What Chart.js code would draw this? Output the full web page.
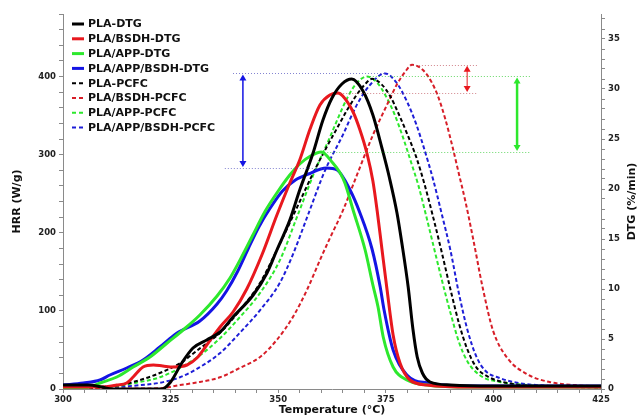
<!DOCTYPE html>
<html>
<head>
<meta charset="utf-8">
<script src="https://cdn.jsdelivr.net/npm/chart.js@4.4.1/dist/chart.umd.min.js"></script>
<style>
  body { margin: 0; background: #fff; }
</style>
</head>
<body>
<canvas id="myChart" width="643" height="420"></canvas>
<script>
// DTG curves (%/min, right axis) -- temperature in °C
const plaDtgT = [300, 306, 309, 311.5, 323, 325, 327.6, 330.2, 333.4, 336.5, 339.5, 344.2, 347.4, 349.7, 352.7, 355, 356.7, 358.1, 360.4, 362.5, 364.8, 367.1, 369.7, 372, 374.1, 375.8, 377.6, 378.8, 380.2, 381.3, 382.3, 383.5, 385.3, 390, 400, 425]
const plaDtgV = [0.4, 0.4, 0.2, 0, 0, 0.7, 2.6, 4.1, 4.9, 5.7, 7.2, 9.4, 11.6, 13.9, 16.9, 19.9, 21.9, 23.6, 26.9, 29.1, 30.5, 31.0, 29.8, 27.4, 24.1, 21.2, 17.6, 14.4, 10.2, 6.0, 3.2, 1.6, 0.7, 0.4, 0.3, 0.3]

const bsdhDtgT = [300, 308.6, 312.5, 314.8, 316.3, 318.6, 321, 323.2, 325.6, 328.8, 331.1, 333.4, 336.5, 339.5, 342.7, 346.3, 349.7, 352.7, 355, 357.4, 359.7, 362, 363.9, 365, 367.4, 369, 370.6, 372, 373, 374.1, 375.3, 376.7, 378.3, 380.6, 384.6, 395, 425]
const bsdhDtgV = [0.2, 0.2, 0.4, 0.6, 1.2, 2.2, 2.4, 2.3, 2.2, 2.4, 3.1, 4.4, 6.2, 7.7, 10.0, 13.5, 17.4, 20.6, 22.9, 26.0, 28.4, 29.4, 29.6, 29.3, 27.7, 25.9, 23.6, 20.8, 17.8, 14.0, 9.9, 5.4, 2.6, 0.9, 0.4, 0.2, 0.2]

const appDtgT = [300, 304, 306.3, 308.6, 312.5, 316.3, 320.2, 324.2, 327.9, 331.8, 335.8, 338.8, 341.5, 344, 347, 350, 352.7, 355, 357.5, 360, 362.7, 364.4, 365.5, 367.4, 370.2, 372, 373.2, 374.4, 376.7, 379.9, 384.6, 395, 425]
const appDtgV = [0.1, 0.1, 0.2, 0.6, 1.2, 2.2, 3.2, 4.6, 5.9, 7.4, 9.3, 11.1, 13.2, 15.3, 17.8, 19.8, 21.4, 22.5, 23.3, 23.7, 22.6, 21.6, 20.6, 17.9, 13.9, 10.4, 8.2, 5.2, 2.2, 0.9, 0.4, 0.2, 0.2]

const appBsdhDtgT = [300, 304.7, 308.6, 310.9, 314.8, 318.6, 322.5, 326.5, 331.8, 335.8, 338, 340.5, 343, 345.5, 348, 351, 354, 357, 361.2, 363.7, 366.7, 369, 371.8, 373.7, 374.6, 376.7, 379.9, 384.6, 395, 425]
const appBsdhDtgV = [0.4, 0.6, 0.9, 1.4, 2.1, 2.9, 4.2, 5.6, 6.8, 8.5, 9.8, 11.7, 14.0, 16.2, 18.0, 19.8, 20.9, 21.5, 22.1, 21.9, 19.9, 17.6, 14.0, 10.2, 7.9, 3.9, 1.4, 0.6, 0.3, 0.3]

// PCFC heat release rate curves (W/g, left axis)
const plaPcfcT = [300, 308.6, 313.2, 317.9, 322.5, 327.2, 331.8, 336.5, 341.1, 345.8, 349.7, 354, 358, 361, 363.5, 366, 368.3, 370, 371.8, 374, 376, 378, 380, 382, 384, 386, 388, 390, 392, 394, 396, 399, 403, 409, 425]
const plaPcfcV = [0, 2.6, 5, 11.5, 20.5, 33, 52, 72, 101, 136, 178, 228, 275, 307, 332, 357, 377, 389, 397, 390, 375, 352, 326, 298, 262, 220, 175, 128, 84, 50, 28, 15, 8, 4, 2]

const bsdhPcfcT = [300, 315, 322.5, 327.2, 331.8, 336.5, 341.1, 345.8, 349.7, 353.4, 356.7, 359.7, 362, 365, 368.3, 372, 375.3, 377.6, 379.5, 381.1, 382.8, 384.6, 386.9, 388.8, 390.5, 392, 393.5, 395.3, 397.5, 399.9, 403.2, 407.8, 413, 419, 425]
const bsdhPcfcV = [0, 0.5, 1, 5, 9, 15, 27, 41, 63, 92, 127, 165, 193, 228, 274, 325, 364, 390, 406, 415, 412, 402, 378, 346, 310, 275, 240, 192, 130, 75, 40, 19, 9, 5, 3]

const appPcfcT = [300, 308.6, 317.9, 322.5, 327.2, 331.8, 336.5, 341.1, 345.8, 350.4, 354.5, 358.6, 362, 364, 366, 368, 370.6, 373, 375, 377, 379, 381, 382.5, 384, 386, 388, 390, 392, 394, 397, 401.5, 408, 425]
const appPcfcV = [0, 1, 9, 15, 27, 43, 65, 92, 123, 165, 222, 280, 322, 348, 372, 390, 400, 392, 375, 352, 322, 288, 262, 230, 185, 140, 98, 60, 35, 17, 9, 5, 2]

const appBsdhPcfcT = [300, 308.6, 317.9, 322.5, 327.2, 331.8, 336.5, 341.1, 345.8, 350.4, 353.4, 357, 360.9, 365, 368.3, 371.3, 374.8, 377.5, 380, 382, 384, 386, 388, 390, 392, 394, 396, 398, 401.5, 405.5, 413, 425]
const appBsdhPcfcV = [0, 1, 5, 8, 15, 28, 46, 72, 101, 136, 172, 224, 280, 325, 364, 389, 404, 392, 367, 340, 306, 268, 224, 178, 122, 75, 42, 24, 14, 8, 4, 2]

const xTicks = [300, 325, 350, 375, 400, 425]

function pts(ts, vs) {
    return ts.map((t, i) => ({ x: t, y: vs[i] }))
}
const peak = (vs) => Math.max(...vs)

const FONT = '"DejaVu Sans", Verdana, sans-serif'
const RED = 'rgb(232,24,30)'
const GREEN = 'rgb(45,232,45)'
const BLUE = 'rgb(20,20,228)'
const DASH = [4, 2.5]

function solid(label, t, v, color) {
    return { label, data: pts(t, v), yAxisID: 'y1', borderColor: color, borderWidth: 3,
             pointRadius: 0, cubicInterpolationMode: 'monotone' }
}
function dashed(label, t, v, color) {
    return { label, data: pts(t, v), yAxisID: 'y', borderColor: color, borderWidth: 2,
             borderDash: DASH, pointRadius: 0, cubicInterpolationMode: 'monotone' }
}

// dotted guides at the DTG / PCFC peaks, plus the arrows between them
const guides = [
    { axis: 'y',  value: peak(appBsdhPcfcV), from: 339.5, to: 374.8, color: 'rgba(80,80,190,0.7)' },
    { axis: 'y1', value: peak(appBsdhDtgV),  from: 337.6, to: 361.2, color: 'rgba(80,80,190,0.7)' },
    { axis: 'y',  value: peak(bsdhPcfcV),    from: 380.6, to: 396.2, color: 'rgba(190,80,90,0.7)' },
    { axis: 'y1', value: peak(bsdhDtgV),     from: 364.4, to: 396.2, color: 'rgba(190,80,90,0.7)' },
    { axis: 'y',  value: peak(appPcfcV),     from: 370.6, to: 408.5, color: 'rgba(40,200,40,0.7)' },
    { axis: 'y1', value: peak(appDtgV),      from: 360.0, to: 408.5, color: 'rgba(40,200,40,0.7)' }
]
const arrows = [
    { x: 341.8, top: 0, bottom: 1, color: BLUE, width: 1.5 },
    { x: 393.9, top: 2, bottom: 3, color: RED, width: 1 },
    { x: 405.5, top: 4, bottom: 5, color: GREEN, width: 2.5 }
]

const guidePlugin = {
    id: 'guides',
    afterDatasetsDraw(chart) {
        const { ctx, scales } = chart
        const yOf = (g) => scales[g.axis].getPixelForValue(g.value)
        ctx.save()
        ctx.lineWidth = 1
        ctx.setLineDash([1, 2])
        guides.forEach((g) => {
            const y = Math.round(yOf(g)) + 0.5
            ctx.strokeStyle = g.color
            ctx.beginPath()
            ctx.moveTo(scales.x.getPixelForValue(g.from), y)
            ctx.lineTo(scales.x.getPixelForValue(g.to), y)
            ctx.stroke()
        })
        ctx.setLineDash([])
        arrows.forEach((a) => {
            const x = scales.x.getPixelForValue(a.x)
            const y0 = yOf(guides[a.top]) + 1
            const y1 = yOf(guides[a.bottom]) - 1
            ctx.strokeStyle = a.color
            ctx.fillStyle = a.color
            ctx.lineWidth = a.width
            ctx.beginPath()
            ctx.moveTo(x, y0 + 5)
            ctx.lineTo(x, y1 - 5)
            ctx.stroke()
            ctx.beginPath()
            ctx.moveTo(x, y0); ctx.lineTo(x - 3.5, y0 + 6); ctx.lineTo(x + 3.5, y0 + 6)
            ctx.closePath()
            ctx.fill()
            ctx.beginPath()
            ctx.moveTo(x, y1); ctx.lineTo(x - 3.5, y1 - 6); ctx.lineTo(x + 3.5, y1 - 6)
            ctx.closePath()
            ctx.fill()
        })
        ctx.restore()
    }
}

// legend drawn inside the plot, top left
const legendPlugin = {
    id: 'insideLegend',
    afterDraw(chart) {
        const { ctx, chartArea } = chart
        ctx.save()
        ctx.font = 'bold 11px ' + FONT
        ctx.textBaseline = 'middle'
        chart.data.datasets.forEach((ds, i) => {
            const x = chartArea.left + 9
            const y = chartArea.top + 10 + i * 14.8
            ctx.strokeStyle = ds.borderColor
            ctx.lineWidth = ds.borderDash ? 2 : 3
            ctx.setLineDash(ds.borderDash ? [4, 3] : [])
            ctx.beginPath()
            ctx.moveTo(x, y)
            ctx.lineTo(x + 12, y)
            ctx.stroke()
            ctx.setLineDash([])
            ctx.fillStyle = '#111'
            ctx.fillText(ds.label, x + 16, y + 0.5)
        })
        // right axis title, read bottom to top like the left one
        const r = chart.scales.y1
        ctx.font = 'bold 11px ' + FONT
        ctx.textAlign = 'center'
        ctx.translate(632, (r.top + r.bottom) / 2)
        ctx.rotate(-Math.PI / 2)
        ctx.fillText('DTG (%/min)', 0, 0)
        ctx.restore()
    }
}

const axisGrid = { drawOnChartArea: false, tickLength: 4, tickColor: '#8a8a8a' }
const axisBorder = { color: '#8a8a8a', width: 1 }
const tickFont = { family: FONT, size: 8.5, weight: 'bold' }

new Chart(document.getElementById('myChart'), {
    type: 'line',
    data: {
        datasets: [
            solid('PLA-DTG', plaDtgT, plaDtgV, '#000'),
            solid('PLA/BSDH-DTG', bsdhDtgT, bsdhDtgV, RED),
            solid('PLA/APP-DTG', appDtgT, appDtgV, GREEN),
            solid('PLA/APP/BSDH-DTG', appBsdhDtgT, appBsdhDtgV, BLUE),
            dashed('PLA-PCFC', plaPcfcT, plaPcfcV, '#000'),
            dashed('PLA/BSDH-PCFC', bsdhPcfcT, bsdhPcfcV, 'rgb(215,30,40)'),
            dashed('PLA/APP-PCFC', appPcfcT, appPcfcV, GREEN),
            dashed('PLA/APP/BSDH-PCFC', appBsdhPcfcT, appBsdhPcfcV, 'rgb(30,30,215)')
        ]
    },
    options: {
        responsive: false,
        animation: false,
        layout: { padding: { top: 14, left: 0, right: 0, bottom: 0 } },
        plugins: { legend: { display: false }, tooltip: { enabled: false } },
        scales: {
            x: {
                type: 'linear', min: 300, max: 425,
                grid: axisGrid, border: axisBorder,
                ticks: {
                    stepSize: 5, autoSkip: false, maxRotation: 0, padding: 2,
                    color: '#222', font: tickFont,
                    callback: (v) => xTicks.includes(v) ? v : ''
                },
                title: { display: true, text: 'Temperature (°C)', color: '#111',
                         font: { family: FONT, size: 11, weight: 'bold' }, padding: { top: 0, bottom: 3 } },
                afterFit: (s) => { s.height = 31 }
            },
            y: {
                position: 'left', min: 0, max: 480,
                grid: axisGrid, border: axisBorder,
                ticks: {
                    stepSize: 20, autoSkip: false, padding: 3, includeBounds: false,
                    color: '#222', font: tickFont,
                    callback: (v) => v % 100 === 0 ? v : ''
                },
                title: { display: true, text: 'HRR (W/g)', color: '#111',
                         font: { family: FONT, size: 11, weight: 'bold' }, padding: { top: 11, bottom: 0 } },
                afterFit: (s) => { s.width = 63 }
            },
            y1: {
                position: 'right', min: 0, max: 37.5,
                grid: axisGrid, border: axisBorder,
                ticks: {
                    stepSize: 1, autoSkip: false, padding: 3, includeBounds: false,
                    color: '#222', font: tickFont,
                    callback: (v) => v % 5 === 0 ? v : ''
                },
                afterFit: (s) => { s.width = 42 }
            }
        }
    },
    plugins: [guidePlugin, legendPlugin]
})
</script>
</body>
</html>
